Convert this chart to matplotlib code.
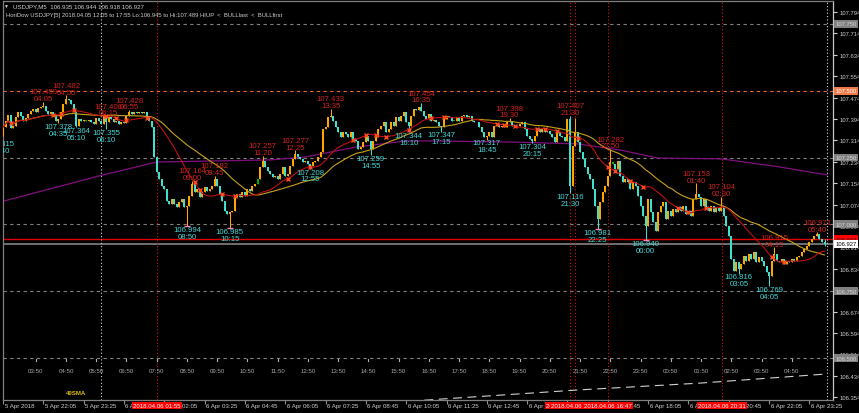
import numpy as np
import pandas as pd
import matplotlib
matplotlib.use("Agg")
import matplotlib.pyplot as plt
import matplotlib.transforms as mtransforms

plt.rcParams['font.family'] = ['Liberation Sans', 'DejaVu Sans']

# ---------------- data (USDJPY M5, 5 Apr 20:45 -> 6 Apr 23:55) ----------------
first_open = 107.332
closes = [
    107.363, 107.388, 107.409, 107.359, 107.369, 107.400, 107.419, 107.404, 107.388, 107.397,
    107.413, 107.425, 107.431, 107.419, 107.434, 107.438, 107.444, 107.425, 107.413, 107.421,
    107.407, 107.388, 107.394, 107.419, 107.450, 107.469, 107.466, 107.450, 107.419, 107.369,
    107.394, 107.388, 107.392, 107.388, 107.390, 107.384, 107.375, 107.397, 107.388, 107.375,
    107.407, 107.382, 107.400, 107.394, 107.384, 107.388, 107.375, 107.382, 107.378, 107.407,
    107.421, 107.413, 107.419, 107.415, 107.421, 107.416, 107.419, 107.400, 107.388, 107.363,
    107.251, 107.195, 107.170, 107.145, 107.132, 107.089, 107.076, 107.095, 107.076, 107.064,
    107.083, 107.095, 107.064, 107.070, 107.107, 107.151, 107.120, 107.132, 107.101, 107.120,
    107.139, 107.126, 107.132, 107.145, 107.170, 107.145, 107.114, 107.089, 107.051, 107.039,
    107.045, 107.051, 107.101, 107.114, 107.101, 107.120, 107.107, 107.132, 107.126, 107.145,
    107.151, 107.170, 107.213, 107.238, 107.213, 107.201, 107.189, 107.176, 107.182, 107.170,
    107.189, 107.213, 107.182, 107.189, 107.220, 107.245, 107.263, 107.251, 107.245, 107.232,
    107.238, 107.226, 107.220, 107.232, 107.238, 107.251, 107.269, 107.357, 107.363, 107.400,
    107.407, 107.388, 107.363, 107.344, 107.326, 107.344, 107.338, 107.326, 107.344, 107.319,
    107.313, 107.282, 107.288, 107.307, 107.332, 107.313, 107.282, 107.313, 107.326, 107.357,
    107.369, 107.382, 107.344, 107.357, 107.382, 107.369, 107.400, 107.388, 107.407, 107.419,
    107.382, 107.369, 107.407, 107.431, 107.428, 107.438, 107.425, 107.407, 107.394, 107.413,
    107.388, 107.392, 107.382, 107.369, 107.363, 107.394, 107.407, 107.400, 107.388, 107.388,
    107.400, 107.388, 107.407, 107.409, 107.400, 107.407, 107.388, 107.382, 107.384, 107.363,
    107.344, 107.326, 107.332, 107.344, 107.326, 107.369, 107.375, 107.363, 107.369, 107.363,
    107.382, 107.384, 107.369, 107.363, 107.369, 107.375, 107.382, 107.357, 107.332, 107.319,
    107.313, 107.332, 107.357, 107.344, 107.357, 107.344, 107.350, 107.338, 107.326, 107.307,
    107.344, 107.332, 107.326, 107.313, 107.394, 107.145, 107.294, 107.344, 107.307, 107.269,
    107.245, 107.213, 107.189, 107.170, 107.132, 107.070, 107.020, 107.083, 107.120, 107.145,
    107.182, 107.232, 107.226, 107.207, 107.238, 107.182, 107.157, 107.170, 107.157, 107.132,
    107.157, 107.145, 107.107, 107.070, 107.033, 106.995, 107.095, 107.045, 107.008, 106.977,
    107.045, 107.070, 107.083, 107.020, 107.051, 107.033, 107.058, 107.045, 107.064, 107.051,
    107.070, 107.039, 107.051, 107.033, 107.095, 107.114, 107.101, 107.070, 107.095, 107.064,
    107.051, 107.070, 107.045, 107.064, 107.051, 107.064, 107.033, 106.995, 106.958, 106.871,
    106.827, 106.858, 106.833, 106.852, 106.883, 106.865, 106.889, 106.871, 106.896, 106.858,
    106.877, 106.865, 106.846, 106.821, 106.808, 106.865, 106.889, 106.865, 106.858, 106.871,
    106.852, 106.865, 106.858, 106.871, 106.865, 106.877, 106.883, 106.896, 106.908, 106.921,
    106.933, 106.946, 106.958, 106.964, 106.946, 106.935, 106.927,
]

# swing highs (red labels) and swing lows (cyan labels): bar, price, label time
hi_idx = [16, 25, 42, 50, 75, 84, 103, 116, 130, 166, 201, 225, 241, 275, 285, 306, 323]
hi_val = [107.459, 107.482, 107.406, 107.428, 107.164, 107.182, 107.257, 107.277, 107.433,
          107.454, 107.398, 107.407, 107.282, 107.153, 107.104, 106.915, 106.971]
hi_time = ["04:05", "04:50", "06:15", "06:55", "09:00", "09:45", "11:20", "12:25", "13:35",
           "16:35", "19:30", "21:30", "22:50", "01:40", "02:30", "04:15", "05:40"]
lo_idx = [-1, 22, 29, 41, 73, 90, 122, 146, 161, 174, 192, 210, 225, 236, 255, 292, 304]
lo_val = [107.315, 107.378, 107.364, 107.355, 106.994, 106.985, 107.208, 107.259, 107.344,
          107.347, 107.317, 107.304, 107.116, 106.981, 106.940, 106.816, 106.769]
lo_time = ["02:40", "04:35", "05:10", "06:10", "08:50", "10:15", "12:55", "14:55", "16:10",
           "17:15", "18:45", "20:15", "21:30", "22:25", "00:00", "03:05", "04:05"]
extra_hi_idx = [227, 326]
extra_hi_val = [107.397, 106.944]
extra_lo_idx = [326]
extra_lo_val = [106.918]
green_bars = [33, 101, 179, 242]
pink_low_bars = [73, 90, 236, 255]
cross_bars = [3, 20, 23, 28, 41, 45, 49, 57, 76, 78, 87, 92, 113, 122, 139, 144, 148, 152, 161,
              170, 175, 196, 199, 203, 212, 215, 220, 228, 240, 243, 249, 254, 268, 272, 279,
              305, 310]

# long moving average (purple) and long baseline (white dashed), read at knots
purple_idx = [-1, 38, 61, 82, 106, 120, 140, 160, 169, 201, 228, 245, 260, 285, 308, 327]
purple_val = [107.084, 107.181, 107.233, 107.237, 107.241, 107.252, 107.289, 107.312, 107.312,
              107.308, 107.301, 107.278, 107.248, 107.245, 107.215, 107.185]
base_idx = [150, 169, 228, 277, 327]
base_val = [106.333, 106.344, 106.381, 106.407, 106.441]

# horizontal levels
dash_levels = [107.750, 107.250, 107.000, 106.750, 106.500]
orange_level = 107.500
red_level = 106.944
bid_level = 106.927

# vertical markers (bar positions)
white_vlines = [38.9, 327.0]
red_vlines = [61.1, 225.0, 227.0, 240.1, 285.3]
red_vline_text = ["2018.04.06 01:55", "2018.04.06 15:29", "2018.04.06 15:34",
                  "2018.04.06 16:47", "2018.04.06 20:31"]

# axis labels
y_ticks = [106.354, 106.434, 106.514, 106.594, 106.674, 106.754, 106.834, 106.914, 106.994,
           107.074, 107.154, 107.234, 107.314, 107.394, 107.474, 107.554, 107.634, 107.714,
           107.794]
x_tick_idx = list(range(0, 321, 16))
x_tick_lbl = ["5 Apr 2018", "5 Apr 22:05", "5 Apr 23:25", "6 Apr 00:45", "6 Apr 02:05",
              "6 Apr 03:25", "6 Apr 04:45", "6 Apr 06:05", "6 Apr 07:25", "6 Apr 08:45",
              "6 Apr 10:05", "6 Apr 11:25", "6 Apr 12:45", "6 Apr 14:05", "6 Apr 15:25",
              "6 Apr 16:45", "6 Apr 18:05", "6 Apr 19:25", "6 Apr 20:45", "6 Apr 22:05",
              "6 Apr 23:25"]
hour_idx = list(range(13, 314, 12))
hour_lbl = ["03:50", "04:50", "05:50", "06:50", "07:50", "08:50", "09:50", "10:50", "11:50",
            "12:50", "13:50", "14:50", "15:50", "16:50", "17:50", "18:50", "19:50", "20:50",
            "21:50", "22:50", "23:50", "00:50", "01:50", "02:50", "03:50", "04:50"]

header1 = "USDJPY,M5  106.935 106.944 106.918 106.927"
header2 = ("HoriDow USDJPY[5] 2018.04.05 12:05 to 17:55 Lo:106.945 to Hi:107.489 "
           "HIUP  <  BULLlast  <  BULLfirst")

# ---------------- colours ----------------
BULL = '#ffa500'
BEAR = '#40e0d0'
GREEN = '#00b000'
RED_TXT = '#d42020'
CYAN_TXT = '#40d8d8'
AXIS_TXT = '#d0d0d0'

# ---------------- figure ----------------
W, H = 859, 414
fig = plt.figure(figsize=(W / 100, H / 100), dpi=100, facecolor='black')
L_PX, R_PX, T_PX, B_PX = 3, 833, 2, 401
ax = fig.add_axes([L_PX / W, 1 - B_PX / H, (R_PX - L_PX) / W, (B_PX - T_PX) / H])
ax.set_facecolor('black')
PX_PER_BAR = 2.52
ax.set_xlim(0, (R_PX - L_PX) / PX_PER_BAR)
ax.set_ylim(106.3436, 107.8351)

for s in ['left', 'bottom', 'top']:
    ax.spines[s].set_color('#808080')
    ax.spines[s].set_linewidth(0.9)
ax.spines['right'].set_color('#c8c8c8')
ax.spines['right'].set_linewidth(0.9)

def fx(x):
    return x / W

def fy(y):
    return 1 - y / H

ax_y = lambda ypx: (B_PX - ypx) / (B_PX - T_PX)
xd_ya = mtransforms.blended_transform_factory(ax.transData, ax.transAxes)
xd_yf = mtransforms.blended_transform_factory(ax.transData, fig.transFigure)
xa_yd = mtransforms.blended_transform_factory(ax.transAxes, ax.transData)

# horizontal level lines
for lv in dash_levels:
    ax.axhline(lv, color='#808080', lw=0.8, ls=(0, (3, 3)), zorder=1)
ax.axhline(orange_level, color='#f06a30', lw=0.8, ls=(0, (3, 3)), zorder=1)
ax.axhline(red_level, color='#e00000', lw=1.0, zorder=1)
ax.axhline(bid_level, color='#707070', lw=1.4, zorder=1)

# vertical lines
for v in white_vlines:
    ax.axvline(v, color='#d8d8d8', lw=0.8, ls=(0, (1, 2)), zorder=1)
for v in red_vlines:
    ax.axvline(v, color='#e01010', lw=0.8, ls=(0, (1, 2)), zorder=1)

# candles
c = np.array(closes)
n = len(c)
o = np.concatenate([[first_open], c[:-1]])
hgh = np.maximum(o, c)
low = np.minimum(o, c)
for i, v in zip(hi_idx + extra_hi_idx, hi_val + extra_hi_val):
    if 0 <= i < n:
        hgh[i] = max(hgh[i], v)
for i, v in zip(lo_idx + extra_lo_idx, lo_val + extra_lo_val):
    if 0 <= i < n:
        low[i] = min(low[i], v)
xs = np.arange(n)
cols = np.where(c >= o, BULL, BEAR).astype(object)
for g in green_bars:
    cols[g] = GREEN
ax.vlines(xs, low, hgh, colors=list(cols), lw=0.75, zorder=3)
body_bot = np.minimum(o, c)
body_h = np.maximum(np.abs(c - o), 0.0015)
ax.bar(xs, body_h, bottom=body_bot, width=0.8, color=list(cols), linewidth=0, zorder=3)

# moving averages
ser = pd.Series(c)
sma_fast = ser.rolling(20, min_periods=1).mean().values
sma_slow = ser.rolling(40, min_periods=1).mean().values
ax.plot(purple_idx, purple_val, color='#80107f', lw=0.9, zorder=2)
ax.plot(xs, sma_slow, color='#c8a018', lw=0.8, zorder=4)
ax.plot(xs, sma_fast, color='#c01010', lw=0.8, zorder=4)
ax.plot(cross_bars, sma_fast[cross_bars], ls='none', marker='x', ms=3.2, mew=1.0,
        color='#ff4a20', zorder=5)
ax.plot(base_idx, base_val, color='#d0d0d0', lw=0.8, ls=(0, (8, 5)), zorder=2)

# pink markers at swing lows
for b in pink_low_bars:
    ax.plot([b], [low[b]], marker='_', ms=4, mew=1.0, color='#ff80c0', zorder=6)

# swing labels
for i, v, t in zip(hi_idx, hi_val, hi_time):
    ax.annotate(f"{v:.3f}", xy=(i, v), xytext=(0, 7.0), textcoords='offset points',
                ha='center', va='center', fontsize=5.6, color=RED_TXT,
                clip_on=True, annotation_clip=False, zorder=7)
    ax.annotate(t, xy=(i, v), xytext=(0, 2.2), textcoords='offset points',
                ha='center', va='center', fontsize=5.6, color=RED_TXT,
                clip_on=True, annotation_clip=False, zorder=7)
for i, v, t in zip(lo_idx, lo_val, lo_time):
    ax.annotate(f"{v:.3f}", xy=(i, v), xytext=(0, -2.4), textcoords='offset points',
                ha='center', va='center', fontsize=5.6, color=CYAN_TXT,
                clip_on=True, annotation_clip=False, zorder=7)
    ax.annotate(t, xy=(i, v), xytext=(0, -7.2), textcoords='offset points',
                ha='center', va='center', fontsize=5.6, color=CYAN_TXT,
                clip_on=True, annotation_clip=False, zorder=7)

# hour labels at bottom of chart
for i, t in zip(hour_idx, hour_lbl):
    ax.text(i, ax_y(371.5), t, transform=xd_ya, ha='center', va='center',
            fontsize=4.4, color='#a8a8a8', zorder=6)
    ax.plot([i, i], [ax_y(359.5), ax_y(362)], transform=xd_ya, color='#b0b0b0', lw=0.8,
            zorder=6)
ax.text(29, ax_y(394), "40SMA", transform=xd_ya, ha='center', va='center',
        fontsize=4.4, color='#d8c000', fontweight='bold', zorder=6)

# right axis ticks
ax.yaxis.tick_right()
ax.set_yticks(y_ticks)
ax.set_yticklabels([f"{v:.3f}" for v in y_ticks])
ax.tick_params(axis='y', direction='out', length=3, width=0.8, colors=AXIS_TXT,
               labelsize=4.2, pad=1.5)

# right axis boxes
def rbox(level, txt, fc, tc):
    ax.text(1.0026, level, txt, transform=xa_yd, ha='left', va='center', fontsize=4.2,
            color=tc, clip_on=False, zorder=10,
            bbox=dict(boxstyle='square,pad=0.25', fc=fc, ec='none'))

for lv in dash_levels:
    rbox(lv, f"{lv:.3f}", '#808080', '#d8d8d8')
rbox(orange_level, f"{orange_level:.3f}", '#f07a48', '#ffffff')
rbox(red_level, f"{red_level:.3f}", '#ff0000', '#202020')
rbox(bid_level, f"{bid_level:.3f}", '#ffffff', '#000000')

# bottom time axis
ax.set_xticks(x_tick_idx)
ax.tick_params(axis='x', direction='out', length=3, width=0.8, color='#909090',
               labelbottom=False)
for i, t in zip(x_tick_idx, x_tick_lbl):
    ax.text(i + 0.6, fy(406.5), t, transform=xd_yf, ha='left', va='center',
            fontsize=4.4, color=AXIS_TXT, clip_on=False)
for v, t in zip(red_vlines, red_vline_text):
    ax.text(v, fy(406.5), t, transform=xd_yf, ha='center', va='center', fontsize=4.4,
            color='#ffffff', clip_on=False, zorder=12,
            bbox=dict(boxstyle='square,pad=0.2', fc='#ff0000', ec='none'))

# header
fig.text(fx(4), fy(6.5), "\u25bc", fontsize=3.6, color=AXIS_TXT, ha='left', va='center')
fig.text(fx(13), fy(6.5), header1, fontsize=4.4, color=AXIS_TXT, ha='left', va='center')
fig.text(fx(6), fy(15.5), header2, fontsize=4.2, color=AXIS_TXT, ha='left', va='center')

fig.savefig('out.png', dpi=100, facecolor='black')
